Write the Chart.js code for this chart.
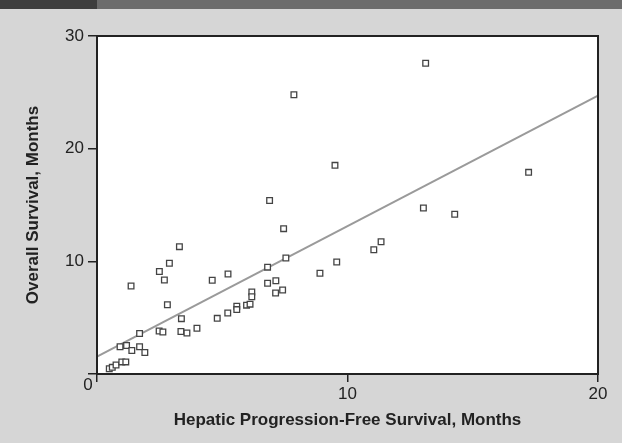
<!DOCTYPE html>
<html>
<head>
<meta charset="utf-8">
<script src="https://cdn.jsdelivr.net/npm/chart.js@4.4.1/dist/chart.umd.min.js"></script>
<style>
  html, body { margin: 0; padding: 0; background: #d6d6d6; }
</style>
</head>
<body>
<canvas id="chart" width="622" height="443"></canvas>
<script>
// Hepatic PFS (x) vs overall survival (y), months
const pfsMonths = [0.49, 0.61, 0.76, 0.99, 1.15, 0.92, 1.18, 1.39, 1.70, 1.91,
  1.70, 1.36, 2.48, 2.63, 2.49, 2.69, 2.89, 3.29, 2.81, 3.37,
  3.35, 3.59, 3.99, 4.60, 5.23, 4.80, 5.22, 5.58, 5.58, 5.97,
  6.11, 6.18, 6.18, 6.81, 6.81, 6.89, 7.14, 7.13, 7.41, 7.45,
  7.54, 7.86, 8.90, 9.50, 9.57, 11.05, 11.34, 13.03, 13.12, 14.28, 17.23];
const osMonths = [0.47, 0.59, 0.80, 1.07, 1.07, 2.42, 2.53, 2.09, 2.42, 1.91,
  3.59, 7.81, 3.82, 3.73, 9.10, 8.34, 9.83, 11.30, 6.15, 4.91,
  3.77, 3.64, 4.06, 8.32, 8.88, 4.94, 5.41, 6.02, 5.72, 6.11,
  6.20, 7.28, 6.86, 9.48, 8.05, 15.40, 8.28, 7.19, 7.46, 12.90,
  10.30, 24.79, 8.94, 18.52, 9.94, 11.03, 11.74, 14.73, 27.58, 14.18, 17.90];

// fitted line end points as drawn
const fitX = [0, 20];
const fitY = [1.55, 24.7];

const xTicks = [0, 10, 20];
const yTicks = [0, 10, 20, 30];

const INK = '#222';
const tickFont = { family: "'Liberation Sans Narrow', 'Arial Narrow', 'Liberation Sans', sans-serif", size: 17 };
const titleFont = { family: "'Liberation Sans Narrow', 'Arial Narrow', 'Liberation Sans', sans-serif", size: 17, weight: 'bold' };

const points = pfsMonths.map((x, i) => ({ x, y: osMonths[i] }));
const fit = fitX.map((x, i) => ({ x, y: fitY[i] }));

// gray page, dark strip on top, white plot area
const backdrop = {
  id: 'backdrop',
  beforeDraw(chart) {
    const { ctx, chartArea: a, width } = chart;
    ctx.save();
    ctx.fillStyle = '#d6d6d6';
    ctx.fillRect(0, 0, width, chart.height);
    ctx.fillStyle = '#6c6c6c';
    ctx.fillRect(0, 0, width, 9);
    ctx.fillStyle = '#3e3e3e';
    ctx.fillRect(0, 0, 97, 9);
    ctx.fillStyle = '#fff';
    ctx.fillRect(a.left, a.top, a.right - a.left, a.bottom - a.top);
    ctx.restore();
  }
};

// box round the plot and the shared "0" at the corner
const frame = {
  id: 'frame',
  afterDraw(chart) {
    const { ctx, chartArea: a, scales } = chart;
    ctx.save();
    ctx.strokeStyle = INK;
    ctx.lineWidth = 2;
    ctx.strokeRect(a.left, a.top, a.right - a.left, a.bottom - a.top);
    ctx.fillStyle = INK;
    ctx.font = `${tickFont.size}px ${tickFont.family}`;
    ctx.textAlign = 'center';
    ctx.textBaseline = 'middle';
    ctx.fillText('0', scales.x.getPixelForValue(0) - 9, scales.y.getPixelForValue(0) + 11);
    ctx.restore();
  }
};

new Chart(document.getElementById('chart'), {
  type: 'scatter',
  data: {
    datasets: [
      {
        label: 'Patients',
        data: points,
        pointStyle: 'rect',
        pointRadius: 4,
        borderColor: '#444',
        backgroundColor: '#fff',
        borderWidth: 1.3,
        order: 1
      },
      {
        type: 'line',
        label: 'Fit',
        data: fit,
        borderColor: '#9a9a9a',
        borderWidth: 2,
        pointRadius: 0,
        fill: false,
        order: 2
      }
    ]
  },
  options: {
    responsive: false,
    animation: false,
    devicePixelRatio: 1,
    layout: { padding: { left: 0, top: 36, right: 24, bottom: 0 } },
    plugins: { legend: { display: false }, tooltip: { enabled: false } },
    scales: {
      x: {
        type: 'linear',
        min: 0,
        max: 20,
        afterBuildTicks: (s) => { s.ticks = xTicks.map((v) => ({ value: v })); },
        afterFit: (s) => { s.height = 69; },
        ticks: { color: INK, font: tickFont, padding: 2, callback: (v) => (v === 0 ? '' : v) },
        grid: { drawOnChartArea: false, tickLength: 8, color: INK, lineWidth: 1.5 },
        border: { color: INK, width: 2 },
        title: { display: true, text: 'Hepatic Progression-Free Survival, Months', color: INK, font: titleFont, padding: { top: 0, bottom: 12 } }
      },
      y: {
        type: 'linear',
        min: 0,
        max: 30,
        afterBuildTicks: (s) => { s.ticks = yTicks.map((v) => ({ value: v })); },
        afterFit: (s) => { s.width = 97; },
        ticks: { color: INK, font: tickFont, padding: 4, callback: (v) => (v === 0 ? '' : v) },
        grid: { drawOnChartArea: false, tickLength: 9, color: INK, lineWidth: 1.5 },
        border: { color: INK, width: 2 },
        title: { display: true, text: 'Overall Survival, Months', color: INK, font: titleFont, padding: { top: 23, bottom: 0 } }
      }
    }
  },
  plugins: [backdrop, frame]
});
</script>
</body>
</html>
